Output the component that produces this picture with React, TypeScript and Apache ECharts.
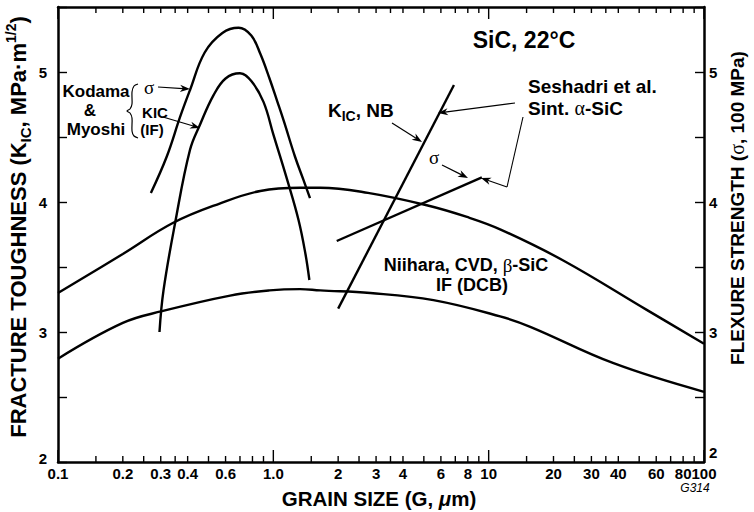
import React, { useEffect, useRef } from "react";
import * as echarts from "echarts";

// ---- data ----
const xTicks = [0.1, 0.15, 0.2, 0.25, 0.3, 0.35, 0.4, 0.5, 0.6, 0.7, 0.8, 0.9, 1, 1.5, 2, 2.5, 3, 3.5, 4, 5, 6, 7, 8, 9, 10, 15, 20, 25, 30, 35, 40, 50, 60, 70, 80, 90, 100];
const xTickLabels = ["0.1", "", "0.2", "", "0.3", "", "0.4", "", "0.6", "", "", "", "1.0", "", "2", "", "3", "", "4", "", "6", "", "8", "", "10", "", "20", "", "30", "", "40", "", "60", "", "80", "", "100"];
const decades = [0.1, 1, 10, 100];

const kodamaSigma = [[0.27, 4.07], [0.32, 4.35], [0.37, 4.66], [0.41, 4.86], [0.48, 5.15], [0.58, 5.3], [0.69, 5.34], [0.79, 5.28], [0.87, 5.14], [0.96, 4.95], [1.04, 4.78], [1.12, 4.62], [1.26, 4.35], [1.38, 4.17], [1.48, 4.03]];
const kodamaKic = [[0.296, 3.0], [0.309, 3.32], [0.35, 3.84], [0.41, 4.4], [0.458, 4.6], [0.527, 4.82], [0.6, 4.95], [0.7, 4.99], [0.79, 4.93], [0.9, 4.77], [1.0, 4.52], [1.16, 4.17], [1.31, 3.86], [1.41, 3.6], [1.47, 3.4]];
const niiharaUpper = [[0.1, 3.3], [0.2, 3.6], [0.343, 3.84], [0.567, 3.99], [0.87, 4.085], [1.33, 4.11], [1.65, 4.11], [2.75, 4.07], [5.16, 3.975], [7.93, 3.885], [11.3, 3.79], [22.2, 3.55], [54.2, 3.17], [100, 2.91]];
const niiharaLower = [[0.1, 2.795], [0.2, 3.07], [0.304, 3.16], [0.63, 3.28], [0.96, 3.32], [1.33, 3.33], [1.65, 3.32], [2.82, 3.3], [5.54, 3.245], [11.3, 3.12], [15.6, 3.04], [38, 2.76], [100, 2.54]];
const seshadriKicNB = [[2.0, 3.18], [6.9, 4.9]];
const seshadriSigma = [[1.97, 3.7], [9.3, 4.19]];

const X_MIN = 0.1, X_MAX = 100, Y_MIN = 2, Y_MAX = 5.5;

const SANS = "'Liberation Sans', Arial, Helvetica, sans-serif";
const SERIF = "'Liberation Serif', 'Times New Roman', serif";

function arrow(x1: number, y1: number, x2: number, y2: number, w = 1.2, head = 10, half = 3.6): any[] {
  const ang = Math.atan2(y2 - y1, x2 - x1);
  const c = Math.cos(ang), s = Math.sin(ang);
  const bx = x2 - head * c, by = y2 - head * s;
  const nx = x2 - head * 0.7 * c, ny = y2 - head * 0.7 * s;
  const px = -s, py = c;
  return [
    { type: "line", shape: { x1, y1, x2: nx, y2: ny }, style: { stroke: "#000", lineWidth: w }, silent: true },
    {
      type: "polygon",
      shape: { points: [[x2, y2], [bx + px * half, by + py * half], [nx, ny], [bx - px * half, by - py * half]] },
      style: { fill: "#000" },
      silent: true,
    },
  ];
}

function txt(x: number, y: number, text: string, size: number, opts: any = {}): any {
  return {
    type: "text",
    x,
    y,
    silent: true,
    rotation: opts.rotation || 0,
    style: {
      text,
      fontSize: size,
      fontWeight: opts.weight || "bold",
      fontStyle: opts.style || "normal",
      fontFamily: opts.family || SANS,
      fill: "#000",
      align: opts.align || "center",
      verticalAlign: "middle",
      rich: opts.rich,
    },
  };
}

export default function App() {
  const ref = useRef<HTMLDivElement>(null);
  useEffect(() => {
    if (!ref.current) return;
    const chart = echarts.init(ref.current, null, { renderer: "svg" });

    const lineSeries = (name: string, data: number[][], smooth: any) => ({
      name,
      type: "line",
      data,
      smooth,
      showSymbol: false,
      symbol: "none",
      clip: false,
      silent: true,
      lineStyle: { color: "#000", width: 2.4 },
    });

    const richSub = {
      a: { fontSize: 19, fontWeight: "bold", fontFamily: SANS, lineHeight: 26, verticalAlign: "middle" },
      s: { fontSize: 14, fontWeight: "bold", fontFamily: SANS, verticalAlign: "bottom" },
    };

    const graphics: any[] = [
      // titles
      txt(18, 227, "{a|FRACTURE TOUGHNESS (K}{s|IC}{a|, MPa·m}{p|1/2}{a|)}", 22, {
        rotation: Math.PI / 2,
        rich: {
          a: { fontSize: 22, fontWeight: "bold", fontFamily: SANS, lineHeight: 29, verticalAlign: "middle" },
          s: { fontSize: 15, fontWeight: "bold", fontFamily: SANS, verticalAlign: "bottom" },
          p: { fontSize: 14, fontWeight: "bold", fontFamily: SANS, verticalAlign: "top" },
        },
      }),
      txt(737, 208, "{a|FLEXURE STRENGTH (}{g|σ}{a|, 100 MPa)}", 19, {
        rotation: Math.PI / 2,
        rich: {
          a: { fontSize: 19, fontWeight: "bold", fontFamily: SANS },
          g: { fontSize: 20, fontWeight: "normal", fontFamily: SERIF },
        },
      }),
      txt(379, 498, "{a|GRAIN SIZE (G, }{i|μ}{a|m)}", 20.5, {
        rich: {
          a: { fontSize: 20.5, fontWeight: "bold", fontFamily: SANS },
          i: { fontSize: 20.5, fontWeight: "bold", fontStyle: "italic", fontFamily: SANS },
        },
      }),
      txt(695, 488, "G314", 12, { weight: "normal", style: "italic" }),
      txt(524, 40, "SiC, 22°C", 23),
      // Kodama block
      txt(96, 91, "Kodama", 17),
      txt(90, 110, "&", 17),
      txt(96, 129, "Myoshi", 17),
      {
        type: "polyline",
        silent: true,
        shape: {
          points: [[138, 84], [134, 86], [132, 92], [132, 104], [130, 109], [127, 111], [130, 113], [132, 118], [132, 131], [134, 136], [138, 138]],
          smooth: 0.3,
        },
        style: { stroke: "#000", lineWidth: 1.2, fill: null },
      },
      txt(149, 87, "σ", 19, { weight: "normal", family: SERIF }),
      txt(155, 112, "KIC", 15),
      txt(152, 129, "(IF)", 15),
      ...arrow(158, 87, 190, 89),
      ...arrow(163, 117, 200, 128),
      // Seshadri
      txt(328, 110, "{a|K}{s|IC}{a|, NB}", 19, { align: "left", rich: richSub }),
      ...arrow(392, 123, 422, 142),
      txt(434, 157, "σ", 19, { weight: "normal", family: SERIF }),
      ...arrow(442, 165, 468, 178),
      txt(528, 97, "{a|Seshadri et al.}\n{a|Sint. }{g|α}{a|-SiC}", 19, {
        align: "left",
        rich: {
          a: { fontSize: 19, fontWeight: "bold", fontFamily: SANS, lineHeight: 22 },
          g: { fontSize: 20, fontWeight: "normal", fontFamily: SERIF, lineHeight: 22 },
        },
      }),
      ...arrow(515, 103, 438, 113, 1.1),
      {
        type: "polyline",
        silent: true,
        shape: { points: [[523, 117], [507, 187]] },
        style: { stroke: "#000", lineWidth: 1.1, fill: null },
      },
      ...arrow(507, 187, 481, 178, 1.1),
      // Niihara
      txt(466, 275, "{a|Niihara, CVD, }{g|β}{a|-SiC}\n{b|IF (DCB)}", 18, {
        rich: {
          a: { fontSize: 18, fontWeight: "bold", fontFamily: SANS, lineHeight: 20 },
          g: { fontSize: 19, fontWeight: "normal", fontFamily: SERIF, lineHeight: 20 },
          b: { fontSize: 18, fontWeight: "bold", fontFamily: SANS, lineHeight: 20, padding: [0, 0, 0, 12] },
        },
      }),
    ];

    const yLabel = (lowPad: number) => ({
      color: "#000",
      fontSize: 15,
      fontWeight: "bold",
      fontFamily: SANS,
      formatter: (v: number) => (v === Y_MIN ? "{lo|2}" : Number.isInteger(v) ? String(v) : ""),
      rich: {
        lo: { fontSize: 15, fontWeight: "bold", fontFamily: SANS, color: "#000", padding: [0, 0, lowPad, 0] },
      },
    });

    const option: any = {
      animation: false,
      backgroundColor: "#fff",
      grid: { left: 58, right: 50, top: 7, bottom: 50, containLabel: false },
      xAxis: [
        {
          type: "log",
          logBase: 10,
          min: X_MIN,
          max: X_MAX,
          position: "bottom",
          axisLine: { show: true, onZero: false, lineStyle: { color: "#000", width: 2.5 } },
          axisTick: { show: false },
          axisLabel: { show: false },
          splitLine: { show: false },
        },
        {
          type: "log",
          logBase: 10,
          min: X_MIN,
          max: X_MAX,
          position: "top",
          axisLine: { show: true, onZero: false, lineStyle: { color: "#000", width: 2.5 } },
          axisTick: { show: false },
          axisLabel: { show: false },
          splitLine: { show: false },
        },
      ],
      yAxis: [
        {
          type: "value",
          min: Y_MIN,
          max: Y_MAX,
          interval: 0.5,
          position: "left",
          axisLine: { show: true, onZero: false, lineStyle: { color: "#000", width: 2.5 } },
          axisTick: { show: true, inside: true, length: 9, lineStyle: { color: "#000", width: 1.4 } },
          axisLabel: { margin: 11, ...yLabel(8) },
          splitLine: { show: false },
        },
        {
          type: "value",
          min: Y_MIN,
          max: Y_MAX,
          interval: 0.5,
          position: "right",
          axisLine: { show: true, onZero: false, lineStyle: { color: "#000", width: 2.5 } },
          axisTick: { show: true, inside: true, length: 9, lineStyle: { color: "#000", width: 1.4 } },
          axisLabel: { margin: 5, ...yLabel(20) },
          splitLine: { show: false },
        },
      ],
      series: [
        {
          type: "custom",
          coordinateSystem: "cartesian2d",
          xAxisIndex: 0,
          yAxisIndex: 0,
          clip: false,
          silent: true,
          data: xTicks.map((v) => [v, Y_MIN]),
          encode: { x: 0, y: 1 },
          renderItem: (params: any, api: any) => {
            const v = api.value(0);
            const pb = api.coord([v, Y_MIN]);
            const pt = api.coord([v, Y_MAX]);
            const big = decades.indexOf(v) >= 0;
            const len = big ? 12 : 6;
            const label = xTickLabels[params.dataIndex];
            const children: any[] = [
              { type: "line", shape: { x1: pb[0], y1: pb[1], x2: pb[0], y2: pb[1] - len }, style: { stroke: "#000", lineWidth: 1.4 } },
              { type: "line", shape: { x1: pt[0], y1: pt[1], x2: pt[0], y2: pt[1] + len }, style: { stroke: "#000", lineWidth: 1.4 } },
            ];
            if (label) {
              children.push({
                type: "text",
                x: pb[0],
                y: pb[1] + 11,
                style: { text: label, fontSize: 15, fontWeight: "bold", fontFamily: SANS, fill: "#000", align: "center", verticalAlign: "middle" },
              });
            }
            return { type: "group", children };
          },
          z: 5,
        },
        lineSeries("Kodama σ", kodamaSigma, 0.4),
        lineSeries("Kodama KIC", kodamaKic, 0.4),
        lineSeries("Niihara upper", niiharaUpper, 0.4),
        lineSeries("Niihara lower", niiharaLower, 0.4),
        lineSeries("Seshadri KIC NB", seshadriKicNB, false),
        lineSeries("Seshadri σ", seshadriSigma, false),
      ],
      graphic: graphics,
    };
    chart.setOption(option);
    return () => chart.dispose();
  }, []);

  return <div ref={ref} style={{ position: "fixed", left: 0, top: 0, width: 754, height: 512, background: "#fff" }} />;
}
